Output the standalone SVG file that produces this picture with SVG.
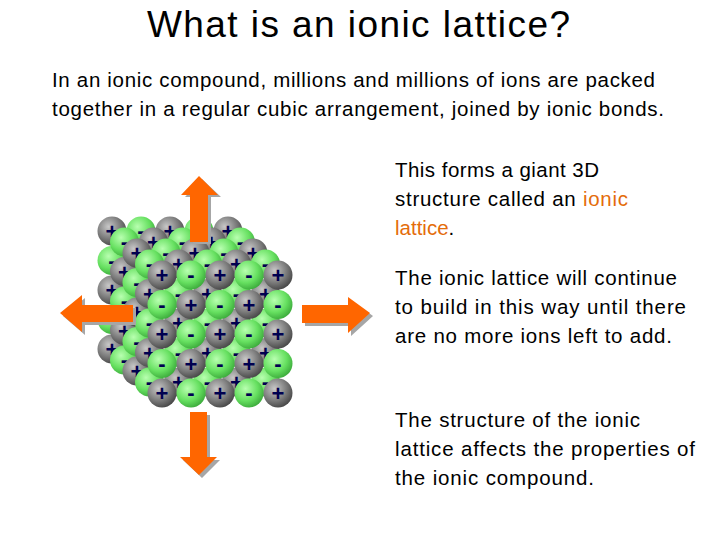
<svg xmlns="http://www.w3.org/2000/svg" xmlns:xlink="http://www.w3.org/1999/xlink" width="720" height="540" viewBox="0 0 720 540">
<style>
text{font-family:"Liberation Sans",Arial,sans-serif;fill:#000}
.t{font-size:37px}
.b{font-size:20.5px}
.s{font-size:22px;font-weight:bold;fill:#000050}
.o{fill:#e46c0a}
.ar{fill:#ff6600}
.sh{fill:#a6a6a6}
</style>
<defs>
<radialGradient id="gg" cx="0.38" cy="0.35" r="0.7"><stop offset="0" stop-color="#c8c8c8"/><stop offset="0.6" stop-color="#7a7a7a"/><stop offset="1" stop-color="#444"/></radialGradient>
<radialGradient id="gn" cx="0.38" cy="0.35" r="0.7"><stop offset="0" stop-color="#b8ffb0"/><stop offset="0.6" stop-color="#66e060"/><stop offset="1" stop-color="#3aa83a"/></radialGradient>
<g id="P"><circle r="14.5" fill="url(#gg)"/><text class="s" text-anchor="middle" y="8">+</text></g>
<g id="M"><circle r="14.5" fill="url(#gn)"/><text class="s" text-anchor="middle" y="7">-</text></g>
</defs>
<rect width="720" height="540" fill="#fff"/>
<text class="t" x="147" y="37" textLength="423" lengthAdjust="spacing">What is an ionic lattice?</text>
<text class="b" x="52" y="87" textLength="603" lengthAdjust="spacing">In an ionic compound, millions and millions of ions are packed</text>
<text class="b" x="52" y="116" textLength="612" lengthAdjust="spacing">together in a regular cubic arrangement, joined by ionic bonds.</text>
<text class="b" x="395" y="177" textLength="204" lengthAdjust="spacing">This forms a giant 3D</text>
<text class="b" x="395" y="206" textLength="233" lengthAdjust="spacing">structure called an <tspan class="o">ionic</tspan></text>
<text class="b" x="395" y="235"><tspan class="o">lattice</tspan>.</text>
<text class="b" x="395" y="285" textLength="282" lengthAdjust="spacing">The ionic lattice will continue</text>
<text class="b" x="395" y="314" textLength="291" lengthAdjust="spacing">to build in this way until there</text>
<text class="b" x="395" y="343" textLength="277" lengthAdjust="spacing">are no more ions left to add.</text>
<text class="b" x="395" y="427" textLength="245" lengthAdjust="spacing">The structure of the ionic</text>
<text class="b" x="395" y="456" textLength="300" lengthAdjust="spacing">lattice affects the properties of</text>
<text class="b" x="395" y="485" textLength="199" lengthAdjust="spacing">the ionic compound.</text>
<g id="lattice">
<use href="#P" x="112" y="231"/><use href="#M" x="141" y="231"/><use href="#P" x="170" y="231"/><use href="#M" x="199" y="231"/><use href="#P" x="228" y="231"/>
<use href="#M" x="112" y="260.5"/><use href="#P" x="112" y="290"/><use href="#M" x="112" y="319.5"/><use href="#P" x="112" y="349"/>
<use href="#M" x="124.5" y="242"/><use href="#P" x="153.5" y="242"/><use href="#M" x="182.5" y="242"/><use href="#P" x="211.5" y="242"/><use href="#M" x="240.5" y="242"/>
<use href="#P" x="124.5" y="271.5"/><use href="#M" x="124.5" y="301"/><use href="#P" x="124.5" y="330.5"/><use href="#M" x="124.5" y="360"/>
<use href="#P" x="137" y="253"/><use href="#M" x="166" y="253"/><use href="#P" x="195" y="253"/><use href="#M" x="224" y="253"/><use href="#P" x="253" y="253"/>
<use href="#M" x="137" y="282.5"/><use href="#P" x="137" y="312"/><use href="#M" x="137" y="341.5"/><use href="#P" x="137" y="371"/>
<use href="#M" x="149.5" y="264"/><use href="#P" x="178.5" y="264"/><use href="#M" x="207.5" y="264"/><use href="#P" x="236.5" y="264"/><use href="#M" x="265.5" y="264"/>
<use href="#P" x="149.5" y="293.5"/><use href="#M" x="178.5" y="293.5"/><use href="#P" x="207.5" y="293.5"/><use href="#M" x="236.5" y="293.5"/><use href="#P" x="265.5" y="293.5"/>
<use href="#M" x="149.5" y="323"/><use href="#P" x="178.5" y="323"/><use href="#M" x="207.5" y="323"/><use href="#P" x="236.5" y="323"/><use href="#M" x="265.5" y="323"/>
<use href="#P" x="149.5" y="352.5"/><use href="#M" x="178.5" y="352.5"/><use href="#P" x="207.5" y="352.5"/><use href="#M" x="236.5" y="352.5"/><use href="#P" x="265.5" y="352.5"/>
<use href="#M" x="149.5" y="382"/><use href="#P" x="178.5" y="382"/><use href="#M" x="207.5" y="382"/><use href="#P" x="236.5" y="382"/><use href="#M" x="265.5" y="382"/>
<use href="#P" x="162" y="275"/><use href="#M" x="191" y="275"/><use href="#P" x="220" y="275"/><use href="#M" x="249" y="275"/><use href="#P" x="278" y="275"/>
<use href="#M" x="162" y="304.5"/><use href="#P" x="191" y="304.5"/><use href="#M" x="220" y="304.5"/><use href="#P" x="249" y="304.5"/><use href="#M" x="278" y="304.5"/>
<use href="#P" x="162" y="334"/><use href="#M" x="191" y="334"/><use href="#P" x="220" y="334"/><use href="#M" x="249" y="334"/><use href="#P" x="278" y="334"/>
<use href="#M" x="162" y="363.5"/><use href="#P" x="191" y="363.5"/><use href="#M" x="220" y="363.5"/><use href="#P" x="249" y="363.5"/><use href="#M" x="278" y="363.5"/>
<use href="#P" x="162" y="393"/><use href="#M" x="191" y="393"/><use href="#P" x="220" y="393"/><use href="#M" x="249" y="393"/><use href="#P" x="278" y="393"/>
</g>
<g id="arrows">
<g id="a-up"><polygon class="sh" points="202,179 221,197 211,197 211,244 193,244 193,197 185,197"/><polygon class="ar" points="199,176 218,195 208,195 208,242 190,242 190,195 181,195"/></g>
<g id="a-left"><polygon class="sh" points="63,316 85,298 85,308 136,308 136,325 85,325 85,335"/><polygon class="ar" points="60,313 82,295 82,305 133,305 133,322 82,322 82,332"/></g>
<g id="a-right"><polygon class="sh" points="305,308 351,308 351,300 373,316 351,336 351,326 305,326"/><polygon class="ar" points="302,305 348,305 348,297 370,313 348,333 348,323 302,323"/></g>
<g id="a-down"><polygon class="sh" points="193,415 210,415 210,460 220,460 202,478 183,460 193,460"/><polygon class="ar" points="190,412 207,412 207,457 217,457 199,475 180,457 190,457"/></g>
</g>
</svg>
